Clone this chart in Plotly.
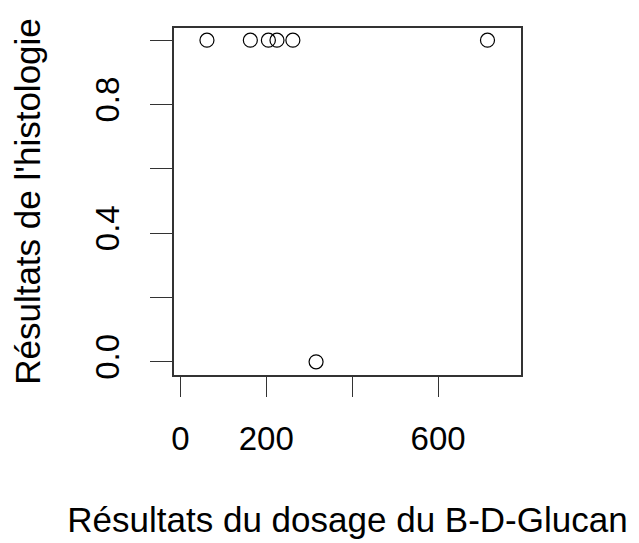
import plotly.graph_objects as go

# Data
bdg_values = [62, 163, 205, 225, 262, 715, 316]
histology = [1, 1, 1, 1, 1, 1, 0]

x_tickvals = [0, 200, 400, 600]
x_ticktext = ["0", "200", "", "600"]
y_tickvals = [0, 0.2, 0.4, 0.6, 0.8, 1.0]
y_ticktext = ["0.0", "", "0.4", "", "0.8", ""]

FONT = "Liberation Sans, Arial, sans-serif"
FS_TICK = 33
FS_TITLE = 35

fig = go.Figure()
fig.add_trace(go.Scatter(
    x=bdg_values, y=histology, mode="markers",
    marker=dict(symbol="circle-open", size=14, color="#000000",
                line=dict(width=1.2, color="#000000")),
    showlegend=False, hoverinfo="x+y"))

fig.update_layout(
    width=639, height=543, autosize=False,
    margin=dict(l=166, r=126, t=20, b=176, pad=0),
    paper_bgcolor="white", plot_bgcolor="white",
    font=dict(family=FONT, size=FS_TICK, color="#000000"),
    xaxis=dict(
        range=[-14.7, 793], tickmode="array", tickvals=x_tickvals, ticktext=x_ticktext,
        ticks="outside", ticklen=20, tickwidth=1.3, tickcolor="#333333",
        showgrid=False, zeroline=False, showline=True, mirror=True,
        linecolor="#333333", linewidth=1.5, automargin=False,
        tickfont=dict(size=FS_TICK, family=FONT), ticklabelstandoff=14,
        title=dict(text="Résultats du dosage du B-D-Glucan", font=dict(size=FS_TITLE, family=FONT), standoff=51),
    ),
    yaxis=dict(
        range=[-0.041, 1.038], tickmode="array", tickvals=y_tickvals, ticktext=y_ticktext,
        ticks="outside", ticklen=22, tickwidth=1.3, tickcolor="#333333", tickangle=-90,
        showgrid=False, zeroline=False, showline=True, mirror=True,
        linecolor="#333333", linewidth=1.5, automargin=False,
        tickfont=dict(size=FS_TICK, family=FONT), ticklabelstandoff=18,
        title=dict(text="Résultats de l'histologie", font=dict(size=FS_TITLE, family=FONT), standoff=47),
    ),
)

fig.write_html("out.html")
